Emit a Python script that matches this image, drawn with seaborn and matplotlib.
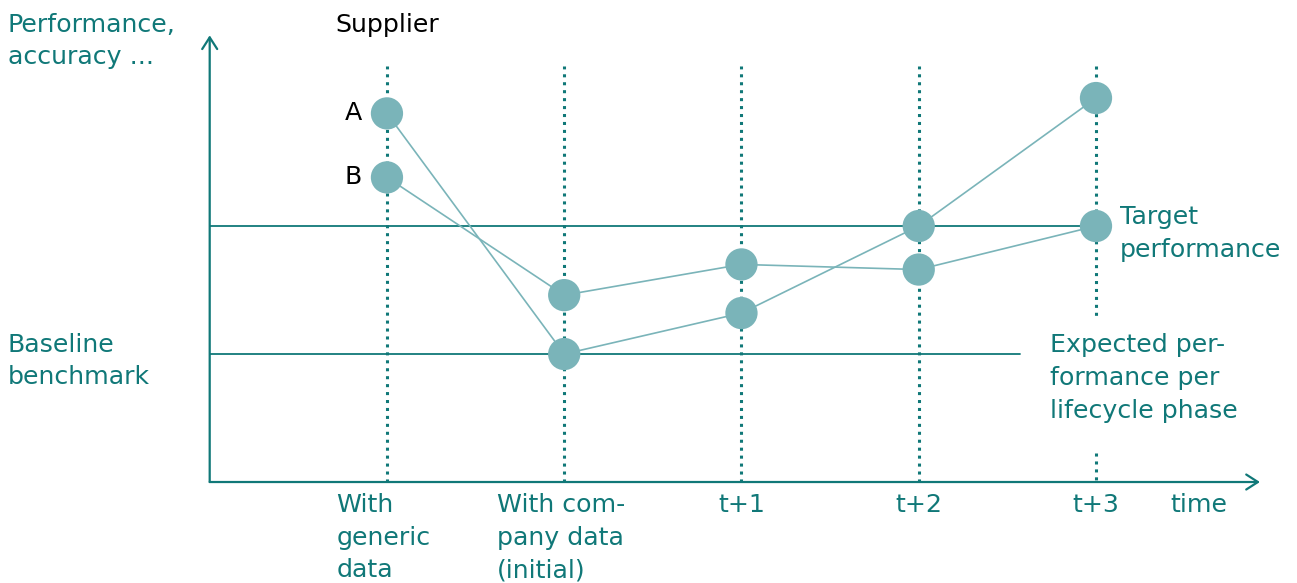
import matplotlib
matplotlib.use("Agg")
import matplotlib.pyplot as plt
import seaborn as sns
import pandas as pd

# ---- data ----
phases = ["With\ngeneric\ndata", "With com-\npany data\n(initial)", "t+1", "t+2", "t+3"]
supplier_a = [2.88, 1.0, 1.32, 2.0, 3.0]
supplier_b = [2.38, 1.46, 1.70, 1.66, 2.0]
baseline = 1.0
target = 2.0

TEAL = "#107878"
POINT = "#7ab4b9"
sns.set_theme(style="white")
plt.rcParams["font.family"] = ["DejaVu Sans"]
FS = 18.2
LS = 1.46

x = list(range(len(phases)))
df = pd.DataFrame({
    "phase": x * 2,
    "value": supplier_a + supplier_b,
    "supplier": ["A"] * len(x) + ["B"] * len(x),
})

fig = plt.figure(figsize=(12.97, 5.83), dpi=100)
ax = fig.add_axes([0, 0, 1, 1])

# vertical dotted phase lines
dot = dict(color=TEAL, lw=2.2, linestyle=(0, (1, 1.6)), zorder=1)
for i in x[:-1]:
    ax.plot([i, i], [0, 3.25], **dot)
ax.plot([4, 4], [3.25, 1.27], **dot)
ax.plot([4, 4], [0.23, 0], **dot)

# reference lines
ax.plot([-1, 3.57], [baseline, baseline], color=TEAL, lw=1.3, zorder=1)
ax.plot([-1, 4], [target, target], color=TEAL, lw=1.3, zorder=1)

# supplier lines and points
sns.lineplot(data=df, x="phase", y="value", units="supplier", estimator=None,
             color=POINT, lw=1.2, ax=ax, zorder=2, sort=False)
sns.scatterplot(data=df, x="phase", y="value", color=POINT, s=540,
                edgecolor="none", ax=ax, zorder=3)
ax.set_xlim(-2.183, 5.134)
ax.set_ylim(-0.789, 3.766)
ax.axis("off")

# axes with arrows
arrow = dict(arrowstyle="->,head_length=0.7,head_width=0.45", color=TEAL, lw=1.6,
             shrinkA=0, shrinkB=0)
ax.annotate("", xy=(-1, 3.49), xytext=(-1, 0), arrowprops=arrow)
ax.annotate("", xy=(4.925, 0), xytext=(-1, 0), arrowprops=arrow)

# texts
kw = dict(color=TEAL, fontsize=FS, linespacing=LS)
ax.text(-2.14, 3.445, "Performance,\naccuracy ...", ha="left", va="center", **kw)
ax.text(-2.14, 0.945, "Baseline\nbenchmark", ha="left", va="center", **kw)
ax.text(4.135, 1.94, "Target\nperformance", ha="left", va="center", **kw)
ax.text(3.74, 0.8125, "Expected per-\nformance per\nlifecycle phase", ha="left", va="center", **kw)
ax.text(-0.29, 3.57, "Supplier", color="black", fontsize=FS, ha="left", va="center")
for lab, val in (("A", supplier_a[0]), ("B", supplier_b[0])):
    ax.text(-0.14, val, lab, color="black", fontsize=FS, ha="right", va="center")

ax.text(-0.285, -0.085, phases[0], ha="left", va="top", **kw)
ax.text(0.62, -0.085, phases[1], ha="left", va="top", **kw)
for i in (2, 3, 4):
    ax.text(i, -0.085, phases[i], ha="center", va="top", **kw)
ax.text(4.58, -0.085, "time", ha="center", va="top", **kw)

fig.savefig("out.png", dpi=100)
